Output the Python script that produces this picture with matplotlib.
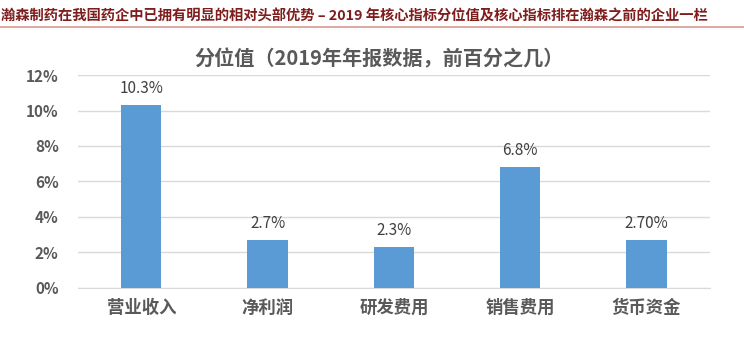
import numpy as np
import matplotlib
matplotlib.use("Agg")
import matplotlib.pyplot as plt

plt.rcParams['font.family'] = ['Noto Sans CJK SC', 'DejaVu Sans']

categories = ['营业收入', '净利润', '研发费用', '销售费用', '货币资金']
values = [10.3, 2.7, 2.3, 6.8, 2.7]
value_labels = ['10.3%', '2.7%', '2.3%', '6.8%', '2.70%']
yticks = [0, 2, 4, 6, 8, 10, 12]

header = '瀚森制药在我国药企中已拥有明显的相对头部优势 – 2019 年核心指标分位值及核心指标排在瀚森之前的企业一栏'
title = '分位值（2019年年报数据，前百分之几）'

fig = plt.figure(figsize=(7.44, 3.59), dpi=100)

# header text and rule
fig.text(0.001, 0.955, header, fontsize=10.3, color='#7f1d1d', fontweight='bold',
         ha='left', va='center')
fig.add_artist(plt.Line2D([0, 1], [0.925, 0.925], color='#d99a8f', lw=1.2))

ax = fig.add_axes([0.105, 0.198, 0.849, 0.593])
x = np.arange(len(categories))
ax.bar(x, values, width=0.32, color='#5b9bd5', zorder=3)

for xi, v, lab in zip(x, values, value_labels):
    ax.text(xi, v + 0.45, lab, ha='center', va='bottom', fontsize=11, color='#404040')

ax.set_xlim(-0.5, len(categories) - 0.5)
ax.set_ylim(0, 12)
ax.set_yticks(yticks)
ax.set_yticklabels(['%d%%' % t for t in yticks], fontsize=11, color='#595959', fontweight='bold')
ax.set_xticks(x)
ax.set_xticklabels(categories, fontsize=12.5, color='#595959', fontweight='bold')
ax.tick_params(axis='both', length=0)
ax.tick_params(axis='x', pad=8)
ax.tick_params(axis='y', pad=14)
ax.grid(axis='y', color='#d9d9d9', lw=1, zorder=0)
for s in ['top', 'right', 'left']:
    ax.spines[s].set_visible(False)
ax.spines['bottom'].set_color('#d9d9d9')

fig.text(0.51, 0.835, title, fontsize=14.5, color='#595959', fontweight='bold',
         ha='center', va='center')

fig.savefig('out.png', dpi=100)
